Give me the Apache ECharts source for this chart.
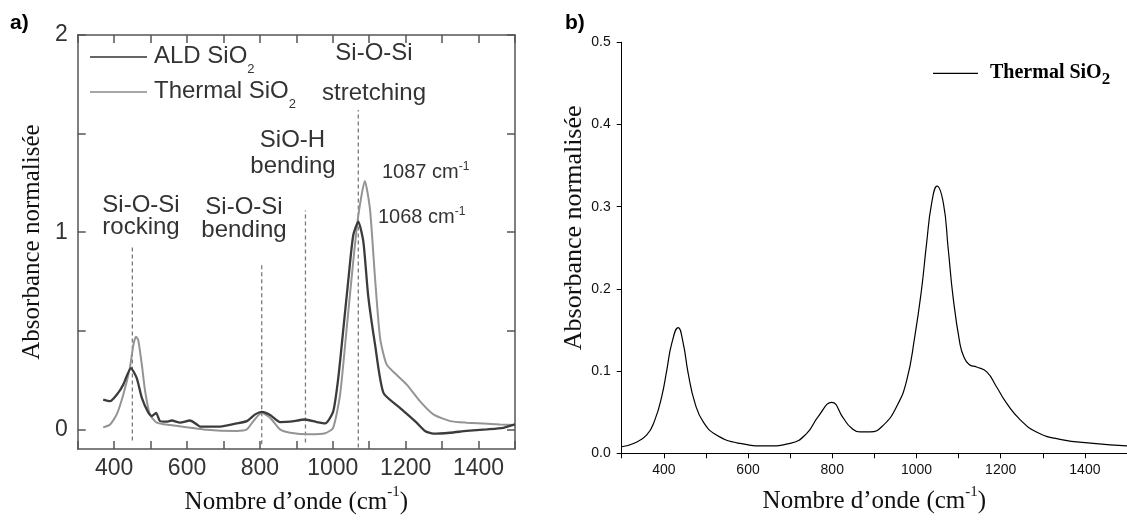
<!DOCTYPE html>
<html><head><meta charset="utf-8">
<script src="https://cdn.jsdelivr.net/npm/echarts@6/dist/echarts.min.js"></script>
<style>html,body{margin:0;padding:0;background:#fff}#c{width:1127px;height:520px}</style>
</head><body><div id="c"></div>
<script>
// ---------- Panel a data ----------
const aldX = [370,389,411,425,446,462,476,494,503,515,526,544,558,581,608,627,636,691,736,764,787,805,828,855,883,924,956,979,1001,1015,1029,1043,1056,1070,1084,1097,1116,1139,1185,1230,1253,1276,1322,1367,1422,1468,1500];
const aldY = [0.151,0.143,0.185,0.227,0.311,0.26,0.16,0.084,0.067,0.084,0.042,0.039,0.045,0.034,0.045,0.025,0.014,0.014,0.03,0.042,0.076,0.089,0.073,0.037,0.039,0.05,0.037,0.03,0.09,0.26,0.51,0.765,0.983,1.054,0.95,0.68,0.43,0.185,0.108,0.034,-0.008,-0.022,-0.017,-0.008,0,0.008,0.025];
const thermAX = [370,389,407,425,443,453,460,466,476,485,498,517,553,645,736,764,782,805,828,855,883,937,979,1001,1020,1038,1056,1070,1088,1102,1116,1130,1148,1175,1203,1239,1276,1322,1367,1459,1500];
const thermAY = [0.01,0.025,0.076,0.176,0.31,0.43,0.47,0.454,0.328,0.194,0.076,0.034,0.022,0,-0.008,0,0.042,0.084,0.059,0,-0.017,-0.025,-0.02,0.008,0.176,0.51,0.85,1.084,1.26,1.118,0.765,0.46,0.328,0.277,0.227,0.143,0.076,0.042,0.034,0.025,0.022];
const dashX = [450,805,925,1070];
const dashTop = [0.925,0.84,1.11,1.62];
const dashBottom = [-0.057,-0.076,-0.067,-0.092];
const aXLabels = [400,600,800,1000,1200,1400];
const aYTicks = [0,0.5,1,1.5,2];
const aYLabels = [0,1,2];
// ---------- Panel b data ----------
const thermBX = [300,328,359,379,395,407,419,434,446,458,474,494,526,581,644,700,739,767,799,826,845,866,890,921,953,977,996,1012,1024,1036,1049,1064,1075,1087,1103,1112,1125,1143,1167,1190,1214,1246,1285,1341,1420,1500];
const thermBY = [0.008,0.012,0.022,0.041,0.069,0.101,0.134,0.153,0.134,0.097,0.061,0.038,0.022,0.012,0.009,0.012,0.024,0.045,0.062,0.043,0.031,0.026,0.026,0.034,0.057,0.089,0.142,0.199,0.255,0.304,0.325,0.304,0.251,0.19,0.134,0.118,0.108,0.105,0.099,0.081,0.061,0.041,0.026,0.017,0.012,0.009];
const bXLabels = [400,600,800,1000,1200,1400];

const SANS = 'Liberation Sans';
const SERIF = 'Liberation Serif';
const FRAME = '#555';
const zip = (xs, ys) => xs.map((x, i) => [x, ys[i]]);
const plain = v => String(v);

const xName = '{a|Nombre d\u2019onde (cm}{p|-1}{a|)}';
const xNameStyle = {
  rich: {
    a: {fontFamily: SERIF, fontSize: 25, color: '#111', lineHeight: 30, verticalAlign: 'bottom'},
    p: {fontFamily: SERIF, fontSize: 15, color: '#111', lineHeight: 15, verticalAlign: 'top'}
  }
};
const yName = 'Absorbance normalis\u00e9e';

const frameAxis = (extra) => Object.assign({
  gridIndex: 0,
  axisLine: {show: true, onZero: false, lineStyle: {color: FRAME, width: 1.5}},
  axisTick: {show: true, inside: true, length: 8, lineStyle: {color: FRAME, width: 1.5}},
  splitLine: {show: false}
}, extra);

const dashSeries = dashX.map((x, i) => ({
  type: 'line', xAxisIndex: 0, yAxisIndex: 0, silent: true, symbol: 'none',
  data: [[x, dashBottom[i]], [x, dashTop[i]]],
  lineStyle: {color: '#7a7a7a', width: 1.3, type: [4, 3]}, z: 1
}));

const supText = (txt, x, y) => ({
  type: 'text', x: x, y: y, silent: true,
  style: {
    text: '{a|' + txt + '}{p|-1}', align: 'left', verticalAlign: 'top',
    rich: {
      a: {fontFamily: SANS, fontSize: 20, fill: '#333', color: '#333', lineHeight: 22, verticalAlign: 'bottom'},
      p: {fontFamily: SANS, fontSize: 12, fill: '#333', color: '#333', lineHeight: 12, verticalAlign: 'top'}
    }
  }
});
const ann = (txt, x, y) => ({
  type: 'text', x: x, y: y, silent: true,
  style: {text: txt, fontFamily: SANS, fontSize: 24, fill: '#333', align: 'center', verticalAlign: 'middle'}
});
const subText = (txt, x, yTop, family, size, subSize, subLH, weight, color) => ({
  type: 'text', x: x, y: yTop, silent: true,
  style: {
    text: '{a|' + txt + '}{s|2}', align: 'left', verticalAlign: 'top',
    rich: {
      a: {fontFamily: family, fontSize: size, fontWeight: weight, fill: color, color: color, lineHeight: size, verticalAlign: 'top'},
      s: {fontFamily: family, fontSize: subSize, fontWeight: weight, fill: color, color: color, lineHeight: subLH}
    }
  }
});

const option = {
  backgroundColor: '#fff',
  animation: false,
  grid: [
    {left: 77.7, top: 35, width: 437.3, height: 417},
    {left: 621.7, top: 42.3, right: 0, bottom: 66.7}
  ],
  xAxis: [
    frameAxis({type: 'value', position: 'bottom', min: 300, max: 1500, interval: 100,
      axisLabel: {customValues: aXLabels, formatter: plain, margin: 8, fontFamily: SANS, fontSize: 23, color: '#333'},
      name: xName, nameLocation: 'middle', nameGap: 32, nameTextStyle: xNameStyle}),
    frameAxis({type: 'value', position: 'top', min: 300, max: 1500, interval: 100,
      axisLabel: {show: false}}),
    {type: 'value', gridIndex: 1, position: 'bottom', min: 300, max: 1500, interval: 100,
      axisLine: {show: true, onZero: false, lineStyle: {color: '#000', width: 1}},
      axisTick: {show: true, inside: false, length: 5, lineStyle: {color: '#000', width: 1}},
      axisLabel: {customValues: bXLabels, formatter: plain, margin: 10, fontFamily: SANS, fontSize: 14, color: '#111'},
      splitLine: {show: false},
      name: xName, nameLocation: 'middle', nameGap: 31, nameTextStyle: xNameStyle}
  ],
  yAxis: [
    frameAxis({type: 'value', position: 'left', min: -0.1, max: 2,
      axisTick: {show: true, inside: true, length: 8, customValues: aYTicks, lineStyle: {color: FRAME, width: 1.5}},
      axisLabel: {customValues: aYLabels, formatter: plain, margin: 10, fontFamily: SANS, fontSize: 23, color: '#333'},
      name: yName, nameLocation: 'middle', nameGap: 33,
      nameTextStyle: {fontFamily: SERIF, fontSize: 25, color: '#111'}}),
    frameAxis({type: 'value', position: 'right', min: -0.1, max: 2,
      axisTick: {show: true, inside: true, length: 8, customValues: aYTicks, lineStyle: {color: FRAME, width: 1.5}},
      axisLabel: {show: false}}),
    {type: 'value', gridIndex: 1, position: 'left', min: 0, max: 0.5, interval: 0.1,
      axisLine: {show: true, onZero: false, lineStyle: {color: '#000', width: 1}},
      axisTick: {show: true, inside: false, length: 5, lineStyle: {color: '#000', width: 1}},
      axisLabel: {margin: 11, fontFamily: SANS, fontSize: 14, color: '#111', formatter: v => v.toFixed(1)},
      splitLine: {show: false},
      name: yName, nameLocation: 'middle', nameGap: 22,
      nameTextStyle: {fontFamily: SERIF, fontSize: 26, color: '#111', padding: [0, 0, 0, 40]}}
  ],
  series: dashSeries.concat([
    {name: 'Thermal SiO2 (a)', type: 'line', xAxisIndex: 0, yAxisIndex: 0, symbol: 'none',
      smooth: 0.2, data: zip(thermAX, thermAY), lineStyle: {color: '#949494', width: 2}, z: 3},
    {name: 'ALD SiO2', type: 'line', xAxisIndex: 0, yAxisIndex: 0, symbol: 'none',
      smooth: 0.2, data: zip(aldX, aldY), lineStyle: {color: '#3c3c3c', width: 2.3}, z: 4},
    {name: 'Thermal SiO2', type: 'line', xAxisIndex: 2, yAxisIndex: 2, symbol: 'none',
      smooth: 0.5, data: zip(thermBX, thermBY), lineStyle: {color: '#000', width: 1.2}, z: 3}
  ]),
  graphic: [
    {type: 'text', x: 10, y: 13, style: {text: 'a)', fontFamily: SANS, fontSize: 21, fontWeight: 'bold', fill: '#000'}},
    {type: 'text', x: 565, y: 13, style: {text: 'b)', fontFamily: SANS, fontSize: 21, fontWeight: 'bold', fill: '#000'}},
    // panel a legend
    {type: 'line', shape: {x1: 90, y1: 57, x2: 147, y2: 57}, style: {stroke: '#333', lineWidth: 1.3}},
    {type: 'line', shape: {x1: 90, y1: 92, x2: 147, y2: 92}, style: {stroke: '#888', lineWidth: 1.3}},
    subText('ALD SiO', 154, 44.7, SANS, 24, 13, 50, 'normal', '#333'),
    subText('Thermal SiO', 154, 79.7, SANS, 24, 13, 50, 'normal', '#333'),
    // panel a annotations
    ann('Si-O-Si', 374, 53.5), ann('stretching', 374, 93),
    ann('SiO-H', 292.5, 140), ann('bending', 293, 166.7),
    ann('Si-O-Si', 141, 205), ann('rocking', 141, 227),
    ann('Si-O-Si', 244, 207), ann('bending', 244, 230),
    supText('1087 cm', 382, 160.5),
    supText('1068 cm', 378, 205.7),
    // panel b legend
    {type: 'line', shape: {x1: 933, y1: 73.3, x2: 978, y2: 73.3}, style: {stroke: '#000', lineWidth: 1.3}},
    subText('Thermal SiO', 990, 63.3, SERIF, 20, 17, 32, 'bold', '#000')
  ]
};
const chart = echarts.init(document.getElementById('c'), null, {renderer: 'canvas'});
chart.setOption(option);
</script>
</body></html>
